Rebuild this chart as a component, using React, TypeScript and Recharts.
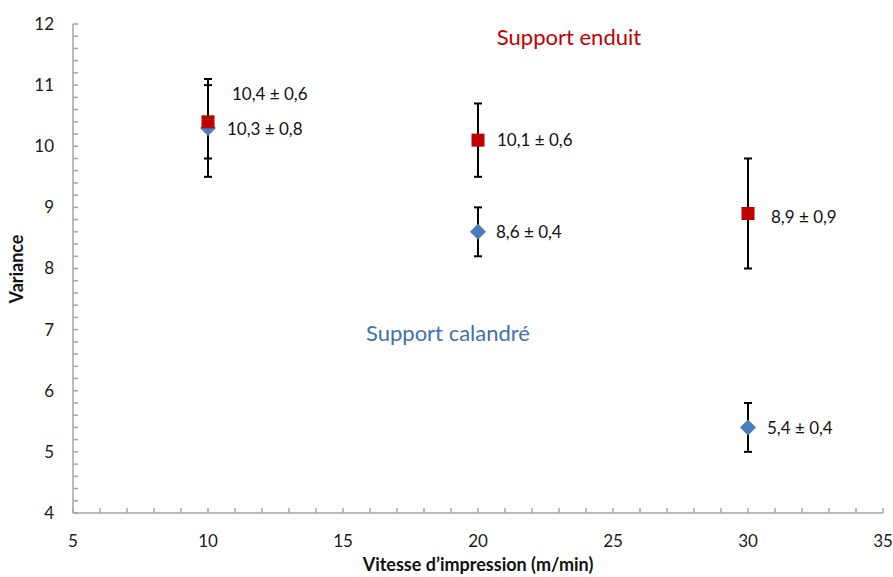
import React from 'react';
import { ScatterChart, Scatter, XAxis, YAxis, ErrorBar } from 'recharts';

const FONT = 'Lato, "Open Sans", sans-serif';

// ---- data ----
const speeds = [10, 20, 30];
const calandreMeans = [10.3, 8.6, 5.4];
const calandreErrors = [0.8, 0.4, 0.4];
const enduitMeans = [10.4, 10.1, 8.9];
const enduitErrors = [0.6, 0.6, 0.9];
const xMajorTicks = [5, 10, 15, 20, 25, 30, 35];
const yMajorTicks = [4, 5, 6, 7, 8, 9, 10, 11, 12];
const calandreTitle = 'Support calandré';
const enduitTitle = 'Support enduit';
const xTitle = 'Vitesse d\u2019impression (m/min)';
const yTitle = 'Variance';

// ---- styles ----
const RED = '#c00000';
const BLUE = '#4a7ebb';
const BLUE_TEXT = '#4270b0';
const AXIS = '#a6a6a6';
const calandreLabelOffsets = [
  { dx: 19, dy: 1 },
  { dx: 18, dy: 0 },
  { dx: 19, dy: 1 },
];
const enduitLabelOffsets = [
  { dx: 24, dy: -28 },
  { dx: 19, dy: 0 },
  { dx: 23, dy: 4 },
];

const fmt = (v: number) => v.toFixed(1).replace('.', ',');
const build = (means: number[], errs: number[]) =>
  speeds.map((s, i) => ({
    x: s,
    y: means[i],
    err: errs[i],
    label: `${fmt(means[i])} \u00b1 ${fmt(errs[i])}`,
    i,
  }));

const calandreData = build(calandreMeans, calandreErrors);
const enduitData = build(enduitMeans, enduitErrors);

const xTicks: number[] = xMajorTicks
  .slice(0, -1)
  .flatMap((t, k) => [0, 1, 2, 3, 4].map((j) => t + j * ((xMajorTicks[k + 1] - t) / 5)))
  .concat(xMajorTicks[xMajorTicks.length - 1]);
const yTicks: number[] = yMajorTicks
  .slice(0, -1)
  .flatMap((t, k) =>
    [0, 1, 2, 3, 4].map((j) => Math.round((t + j * ((yMajorTicks[k + 1] - t) / 5)) * 100) / 100)
  )
  .concat(yMajorTicks[yMajorTicks.length - 1]);

const YTick = (props: any) => {
  const { x, y, payload } = props;
  const v = payload.value;
  const major = yMajorTicks.includes(v);
  return (
    <g>
      <line x1={x} x2={x + 5} y1={y} y2={y} stroke={AXIS} strokeWidth={1.5} />
      {major && (
        <text x={x - 19} y={y} dy="0.35em" textAnchor="end" fontFamily={FONT} fontSize={17} fill="#1a1a1a">
          {v}
        </text>
      )}
    </g>
  );
};

const XTick = (props: any) => {
  const { x, y, payload } = props;
  const v = payload.value;
  const major = xMajorTicks.includes(v);
  return (
    <g>
      <line x1={x} x2={x} y1={y} y2={y - 5} stroke={AXIS} strokeWidth={1.5} />
      {major && (
        <text x={x} y={y + 28} dy="0.35em" textAnchor="middle" fontFamily={FONT} fontSize={17} fill="#1a1a1a">
          {v}
        </text>
      )}
    </g>
  );
};

const Square = (props: any) => {
  const { cx, cy } = props;
  const s = 13;
  return <rect x={cx - s / 2} y={cy - s / 2} width={s} height={s} fill={RED} />;
};

const Diamond = (props: any) => {
  const { cx, cy } = props;
  const h = 8;
  return (
    <polygon
      points={`${cx},${cy - h} ${cx + h},${cy} ${cx},${cy + h} ${cx - h},${cy}`}
      fill={BLUE}
    />
  );
};

const makeLabel = (offsets: { dx: number; dy: number }[]) => (props: any) => {
  const { cx, cy, payload } = props;
  const o = offsets[payload.i];
  return (
    <text
      x={cx + o.dx}
      y={cy + o.dy}
      dy="0.35em"
      textAnchor="start"
      fontFamily={FONT}
      fontSize={17}
      fill="#111"
    >
      {payload.label}
    </text>
  );
};

export default function App() {
  return (
    <div style={{ position: 'absolute', left: 0, top: 0, width: 893, height: 577, background: '#fff' }}>
      <ScatterChart width={893} height={577} margin={{ top: 24, right: 10, bottom: 0, left: 0 }}>
        <XAxis
          type="number"
          dataKey="x"
          domain={[5, 35]}
          ticks={xTicks}
          interval={0}
          allowDataOverflow
          height={64}
          tickSize={0}
          tickMargin={0}
          tickLine={false}
          axisLine={{ stroke: AXIS, strokeWidth: 1.5 }}
          tick={<XTick />}
        />
        <YAxis
          type="number"
          dataKey="y"
          domain={[4, 12]}
          ticks={yTicks}
          interval={0}
          allowDataOverflow
          width={73}
          tickSize={0}
          tickMargin={0}
          tickLine={false}
          axisLine={{ stroke: AXIS, strokeWidth: 1.5 }}
          tick={<YTick />}
        />
        <Scatter data={calandreData} shape={<Diamond />} isAnimationActive={false} />
        <Scatter data={enduitData} shape={<Square />} isAnimationActive={false} />
        <Scatter data={calandreData} shape={makeLabel(calandreLabelOffsets)} isAnimationActive={false}>
          <ErrorBar dataKey="err" direction="y" width={4} stroke="#000" strokeWidth={2} isAnimationActive={false} />
        </Scatter>
        <Scatter data={enduitData} shape={makeLabel(enduitLabelOffsets)} isAnimationActive={false}>
          <ErrorBar dataKey="err" direction="y" width={4} stroke="#000" strokeWidth={2} isAnimationActive={false} />
        </Scatter>
      </ScatterChart>
      <svg
        width={893}
        height={577}
        style={{ position: 'absolute', left: 0, top: 0, pointerEvents: 'none' }}
      >
        <text x={569} y={37} dy="0.35em" textAnchor="middle" fontFamily={FONT} fontSize={22} fill={RED}>
          {enduitTitle}
        </text>
        <text x={448} y={333} dy="0.35em" textAnchor="middle" fontFamily={FONT} fontSize={22} fill={BLUE_TEXT}>
          {calandreTitle}
        </text>
        <text
          x={17}
          y={269}
          dy="0.35em"
          textAnchor="middle"
          fontFamily={FONT}
          fontSize={18}
          fontWeight="bold"
          fill="#111"
          transform="rotate(-90 17 269)"
        >
          {yTitle}
        </text>
        <text x={478} y={565} dy="0.35em" textAnchor="middle" fontFamily={FONT} fontSize={18} fontWeight="bold" fill="#111">
          {xTitle}
        </text>
      </svg>
    </div>
  );
}
